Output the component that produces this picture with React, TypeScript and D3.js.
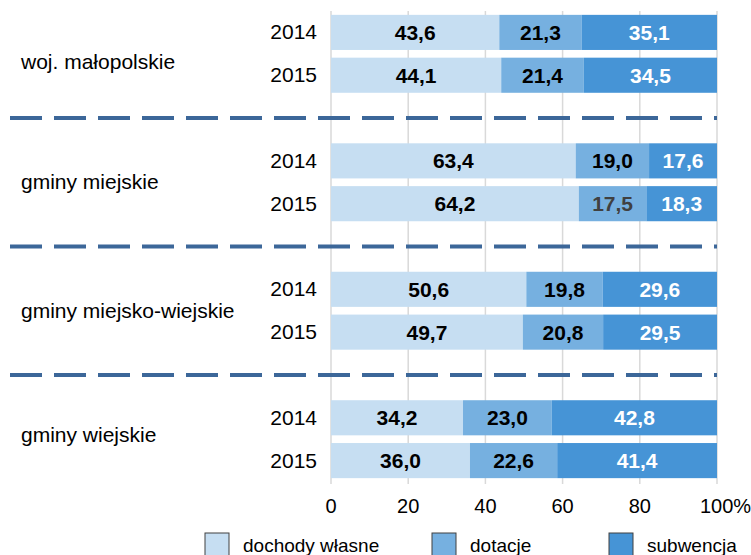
import React from "react";
import * as d3 from "d3";

const groups = ["woj. małopolskie", "gminy miejskie", "gminy miejsko-wiejskie", "gminy wiejskie"];
const years = ["2014", "2015"];
const seriesNames = ["dochody własne", "dotacje", "subwencja"];
const dochody = [43.6, 44.1, 63.4, 64.2, 50.6, 49.7, 34.2, 36.0];
const dotacje = [21.3, 21.4, 19.0, 17.5, 19.8, 20.8, 23.0, 22.6];
const subwencja = [35.1, 34.5, 17.6, 18.3, 29.6, 29.5, 42.8, 41.4];
const ticks = [0, 20, 40, 60, 80, 100];
const colors = ["#c6def2", "#76b0e0", "#4694d6"];
const labelColors = ["#000", "#000", "#fff"];

export default function App() {
  const W = 751, H = 555;
  const x = d3.scaleLinear().domain([0, 100]).range([331, 717]);
  const slots = d3.range(11).map(String);
  const y = d3.scaleBand().domain(slots).range([11, 482]).paddingInner(0.18).paddingOuter(0.09);
  const rowSlot = (i: number) => Math.floor(i / 2) * 3 + (i % 2);
  const rows = dochody.map((d, i) => ({ i, vals: [d, dotacje[i], subwencja[i]] }));
  const stack = rows.map((r) => {
    let acc = 0;
    return r.vals.map((v) => {
      const s = { x0: acc, x1: acc + v, v };
      acc += v;
      return s;
    });
  });
  const sepY = [2, 5, 8].map((s) => (y(String(s))! + y.bandwidth() / 2));
  const font = "'Liberation Sans', Arial, sans-serif";
  const legendX = [205, 432, 609];
  const groupDy = [15, 7, 7, 3];
  return (
    <svg width={W} height={H} style={{ position: "absolute", left: 0, top: 0 }} fontFamily={font}>
      <rect width={W} height={H} fill="#fff" />
      {ticks.map((t) => (
        <line key={t} x1={x(t)} x2={x(t)} y1={11} y2={484} stroke="#d9d9d9" strokeWidth={1.5} />
      ))}
      {sepY.map((sy, k) => (
        <line key={k} x1={10} x2={717} y1={sy} y2={sy} stroke="#3c6799" strokeWidth={4} strokeDasharray="32 12" />
      ))}
      {rows.map((r) => {
        const yy = y(String(rowSlot(r.i)))!;
        const h = y.bandwidth();
        return (
          <g key={r.i}>
            {stack[r.i].map((s, k) => (
              <rect key={k} x={x(s.x0)} y={yy} width={x(s.x1) - x(s.x0)} height={h} fill={colors[k]} />
            ))}
            {stack[r.i].map((s, k) => (
              <text key={"t" + k} x={(x(s.x0) + x(s.x1)) / 2} y={yy + h / 2 + 7.5} textAnchor="middle"
                fontSize={21} fontWeight="bold"
                fill={r.i === 3 && k === 1 ? "#404040" : labelColors[k]}>
                {s.v.toFixed(1).replace(".", ",")}
              </text>
            ))}
            <text x={317} y={yy + h / 2 + 7} textAnchor="end" fontSize={21} fill="#000">
              {years[r.i % 2]}
            </text>
          </g>
        );
      })}
      {groups.map((g, gi) => {
        const a = y(String(gi * 3))!;
        const b = y(String(gi * 3 + 1))! + y.bandwidth();
        return (
          <text key={g} x={21} y={(a + b) / 2 + groupDy[gi]} fontSize={21} fill="#000">{g}</text>
        );
      })}
      {ticks.map((t) => (
        <text key={"l" + t} x={x(t)} y={513} textAnchor={t === 100 ? "start" : "middle"} dx={t === 100 ? -17 : 0} fontSize={20} fill="#000">
          {t === 100 ? "100%" : t}
        </text>
      ))}
      {seriesNames.map((n, k) => (
        <g key={n}>
          <rect x={legendX[k]} y={533} width={24} height={26} fill={colors[k]} stroke="#404040" strokeWidth={1} />
          <text x={legendX[k] + 38} y={552} fontSize={19} fill="#000">{n}</text>
        </g>
      ))}
    </svg>
  );
}
